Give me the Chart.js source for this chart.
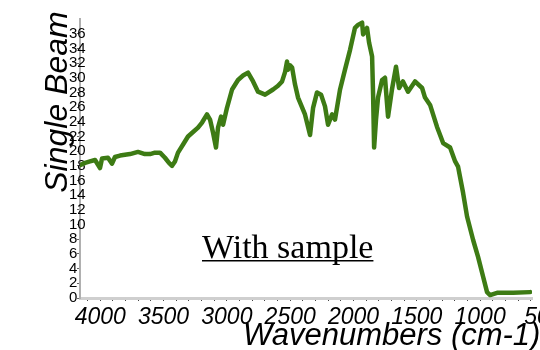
<!DOCTYPE html>
<html>
<head>
<meta charset="utf-8">
<script src="https://cdn.jsdelivr.net/npm/chart.js@4"></script>
<style>
  html, body { margin: 0; padding: 0; background: #fff; }
  canvas { display: block; }
</style>
</head>
<body>
<canvas id="chart" width="540" height="350"></canvas>
<script>
// spectrum: wavenumber (cm-1) and single beam value
const wavenumbers = [4160, 4120, 4081, 4041, 4002, 3986, 3939, 3907, 3884, 3844, 3805, 3765, 3702, 3647, 3607, 3568, 3528, 3489, 3457, 3433, 3410, 3386, 3346, 3307, 3267, 3228, 3196, 3157, 3133, 3109, 3086, 3070, 3046, 3030, 2999, 2959, 2912, 2872, 2833, 2793, 2754, 2698, 2635, 2596, 2564, 2540, 2525, 2517, 2501, 2485, 2462, 2438, 2383, 2343, 2319, 2288, 2256, 2225, 2201, 2169, 2146, 2106, 2067, 2027, 1988, 1964, 1932, 1924, 1893, 1877, 1853, 1845, 1837, 1822, 1806, 1774, 1751, 1727, 1696, 1664, 1640, 1609, 1569, 1514, 1458, 1435, 1395, 1340, 1292, 1237, 1197, 1174, 1134, 1103, 1055, 1016, 976, 945, 921, 866, 739, 605];
const singleBeam = [18.1, 18.4, 18.6, 18.8, 17.7, 19.0, 19.1, 18.3, 19.2, 19.4, 19.5, 19.6, 19.9, 19.6, 19.6, 19.8, 19.8, 19.1, 18.4, 18.0, 18.6, 19.8, 20.9, 22.0, 22.6, 23.2, 23.9, 25.0, 24.3, 22.5, 20.5, 23.2, 24.7, 23.6, 25.9, 28.4, 29.7, 30.3, 30.7, 29.5, 28.1, 27.7, 28.4, 28.9, 29.5, 30.8, 32.2, 31.1, 31.7, 31.4, 29.1, 27.3, 25.0, 22.2, 25.9, 28.0, 27.7, 26.1, 23.6, 25.0, 24.3, 28.4, 31.1, 33.8, 36.8, 37.2, 37.5, 35.9, 36.8, 34.8, 32.9, 27.7, 20.5, 24.3, 27.3, 29.7, 30.0, 24.7, 28.4, 31.5, 28.6, 29.5, 28.1, 29.5, 28.6, 27.3, 26.3, 23.3, 21.1, 20.5, 18.6, 17.9, 14.3, 11.1, 7.9, 5.6, 2.9, 0.8, 0.4, 0.7, 0.7, 0.8];

const xTickLabels = [4000, 3500, 3000, 2500, 2000, 1500, 1000, 500];
const yTickLabels = [0, 2, 4, 6, 8, 10, 12, 14, 16, 18, 20, 22, 24, 26, 28, 30, 32, 34, 36];

const xTitle = 'Wavenumbers (cm-1)';
const yTitle = 'Single Beam';
const noteText = 'With sample';

// minor tick marks every 100 cm-1, labels only on the 500s
const xMinorTicks = [];
for (let w = 4100; w >= 500; w -= 100) xMinorTicks.push(w);

const titlesPlugin = {
  id: 'titles',
  afterDraw(chart) {
    const ctx = chart.ctx;
    ctx.save();
    ctx.fillStyle = '#000';

    ctx.font = 'italic 32px "Liberation Sans", Arial, sans-serif';
    ctx.translate(67, 102);
    ctx.rotate(-Math.PI / 2);
    ctx.textAlign = 'center';
    ctx.textBaseline = 'alphabetic';
    ctx.fillText(yTitle, 0, 0);
    ctx.setTransform(1, 0, 0, 1, 0, 0);

    ctx.font = 'italic 31px "Liberation Sans", Arial, sans-serif';
    ctx.textAlign = 'left';
    ctx.fillText(xTitle, 243, 345);

    ctx.font = '34px "Liberation Serif", "Times New Roman", serif';
    ctx.fillText(noteText, 202, 258);
    const w = ctx.measureText(noteText).width;
    ctx.fillRect(202, 260, w, 1.5);
    ctx.restore();
  }
};

new Chart(document.getElementById('chart'), {
  type: 'line',
  data: {
    datasets: [{
      data: wavenumbers.map((w, i) => ({ x: w, y: singleBeam[i] })),
      borderColor: '#3d7b14',
      borderWidth: 4.5,
      pointRadius: 0,
      tension: 0,
      borderJoinStyle: 'round',
      borderCapStyle: 'round'
    }]
  },
  options: {
    responsive: false,
    animation: false,
    devicePixelRatio: 1,
    layout: { padding: { top: 19, right: 8, left: 0, bottom: 0 } },
    plugins: { legend: { display: false }, tooltip: { enabled: false } },
    scales: {
      x: {
        type: 'linear',
        reverse: true,
        min: 590,
        max: 4160,
        afterBuildTicks(scale) {
          scale.ticks = xMinorTicks.map(v => ({ value: v }));
        },
        afterFit(scale) {
          scale.height = 52;
          scale.paddingLeft = 0;
          scale.paddingRight = 0;
        },
        ticks: {
          autoSkip: false,
          maxRotation: 0,
          padding: 3,
          color: '#000',
          font: { family: '"Liberation Sans", Arial, sans-serif', size: 23, style: 'italic' },
          callback: v => (xTickLabels.includes(v) ? String(v) : '')
        },
        grid: { drawOnChartArea: false, tickLength: 3, color: '#444', lineWidth: 1 },
        border: { color: '#cfcfcf', width: 3 }
      },
      y: {
        type: 'linear',
        min: 0,
        max: 38,
        afterBuildTicks(scale) {
          scale.ticks = yTickLabels.map(v => ({ value: v }));
        },
        afterFit(scale) {
          scale.width = 80;
          scale.paddingTop = 0;
          scale.paddingBottom = 0;
        },
        ticks: {
          autoSkip: false,
          mirror: true,
          padding: -11,
          color: '#000',
          font: { family: '"Liberation Sans", Arial, sans-serif', size: 15 }
        },
        grid: { drawOnChartArea: false, tickLength: 3, color: '#666', lineWidth: 1 },
        border: { color: '#b0b0b0', width: 2, dash: [2, 2] }
      }
    }
  },
  plugins: [titlesPlugin]
});
</script>
</body>
</html>
